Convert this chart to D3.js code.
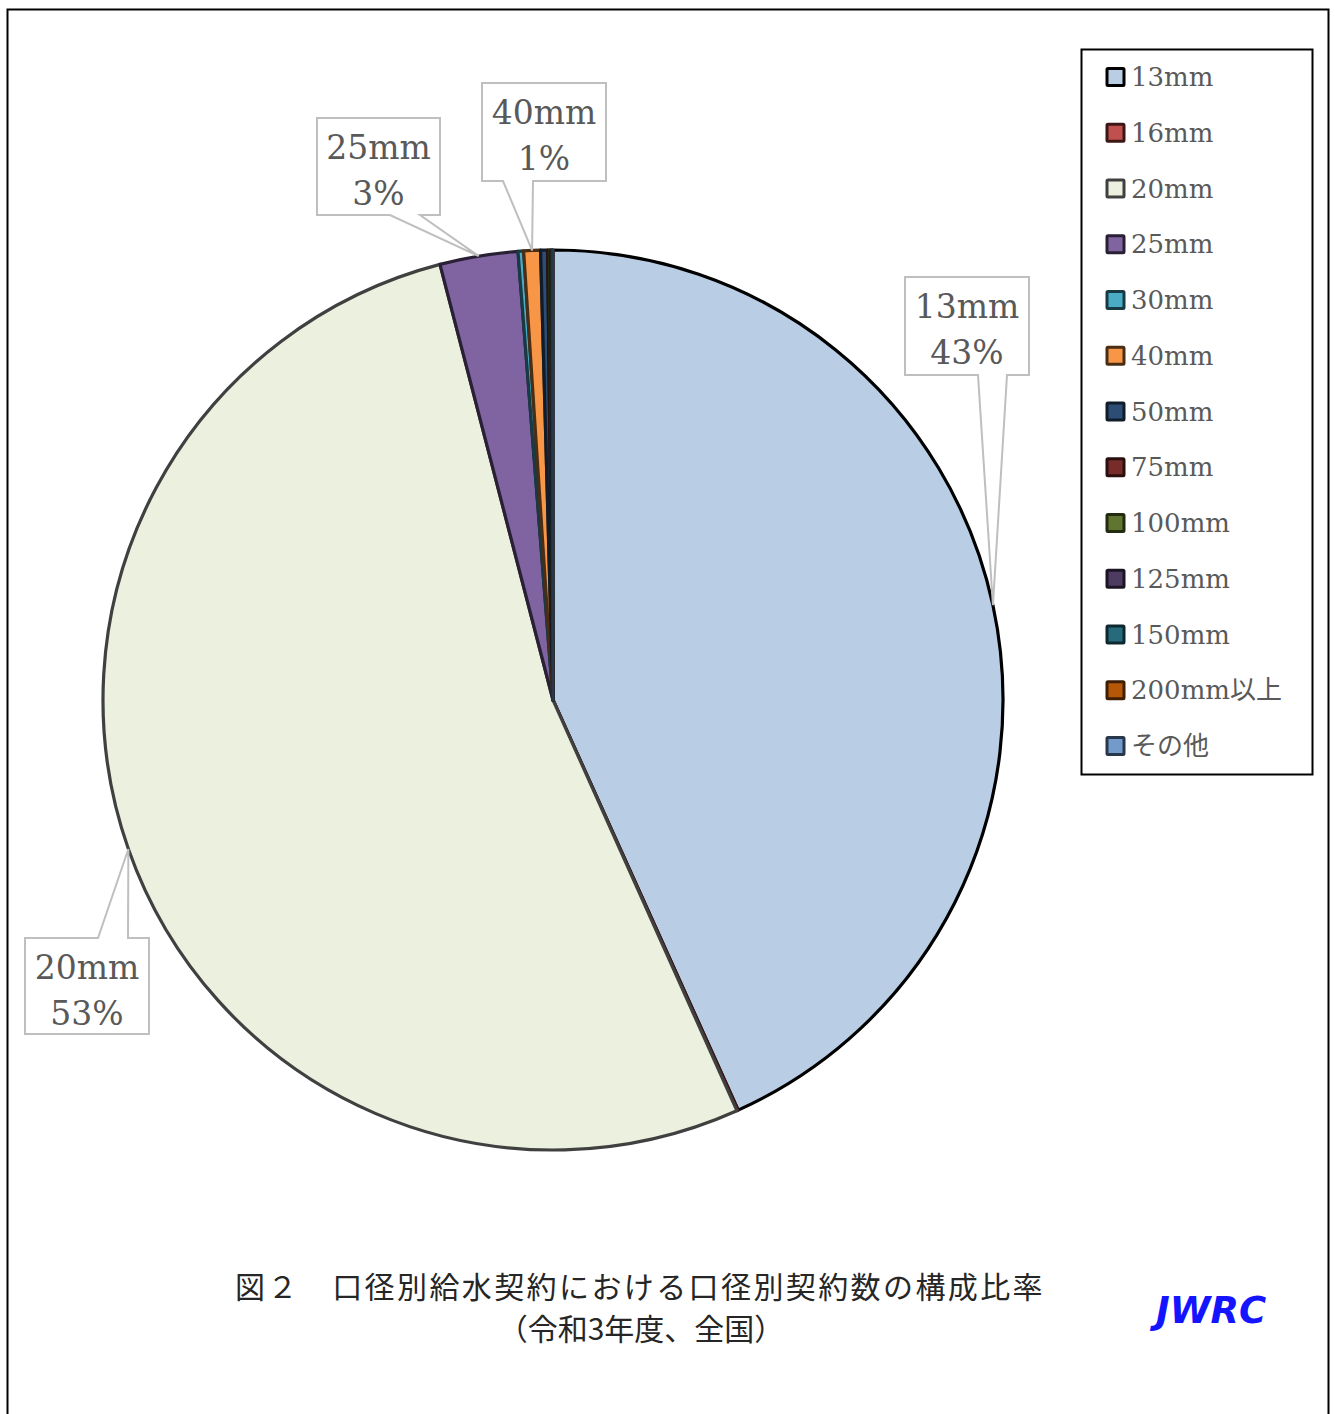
<!DOCTYPE html>
<html>
<head>
<meta charset="utf-8">
<script src="https://cdn.jsdelivr.net/npm/d3@7"></script>
<style>
  body { margin: 0; background: #fff; }
</style>
</head>
<body>
<svg id="chart"></svg>
<script>
// Size of the page
const width = 1335;
const height = 1414;

// Data (percent)
const categories = ["13mm", "16mm", "20mm", "25mm", "30mm", "40mm", "50mm", "75mm", "100mm", "125mm", "150mm", "200mm以上", "その他"];
const shares = [43.25, 0.05, 52.66, 2.8, 0.2, 0.6, 0.25, 0.06, 0.05, 0.02, 0.03, 0.02, 0.01];
const labelled = ["13mm", "20mm", "25mm", "40mm"];

// Colours (Excel style)
const fills = ["#b9cde5", "#c0504d", "#ebf1de", "#8064a2", "#4bacc6", "#f79646", "#2c4d75", "#772c2a", "#5f7530", "#4d3b62", "#276a7c", "#b65708", "#729aca"];
const strokes = ["#000000", "#3b1716", "#404040", "#2a2035", "#173a44", "#4a2d15", "#111c2b", "#2a0f0f", "#232b11", "#1c1524", "#0e2830", "#3f1e03", "#28374a"];

const svg = d3.select("#chart")
    .attr("width", width)
    .attr("height", height);

// outer frame
svg.append("rect")
    .attr("x", 7.5).attr("y", 9.5)
    .attr("width", 1321).attr("height", 1430)
    .attr("fill", "none")
    .attr("stroke", "#000")
    .attr("stroke-width", 2);

// pie
const cx = 553, cy = 700, radius = 450;
const pie = d3.pie().sort(null).value(d => d.value);
const arcs = pie(categories.map((c, i) => ({ name: c, value: shares[i], i: i })));
const arc = d3.arc().innerRadius(0).outerRadius(radius);

const g = svg.append("g").attr("transform", `translate(${cx},${cy})`);
g.selectAll("path.slice")
    .data(arcs)
    .join("path")
    .attr("class", "slice")
    .attr("d", arc)
    .attr("fill", d => fills[d.data.i])
    .attr("stroke", d => strokes[d.data.i])
    .attr("stroke-width", 3.2)
    .attr("stroke-linejoin", "round");

// data label callouts
const total = d3.sum(shares);
const boxes = {
    "13mm": { x: 905, y: 277, w: 124, h: 98, side: "bottom", b0: 978, b1: 1007 },
    "20mm": { x: 25, y: 938, w: 124, h: 96, side: "top", b0: 98, b1: 128 },
    "25mm": { x: 317, y: 118, w: 123, h: 97, side: "bottom", b0: 390, b1: 420 },
    "40mm": { x: 482, y: 83, w: 124, h: 98, side: "bottom", b0: 503, b1: 533 }
};

labelled.forEach(name => {
    const a = arcs.find(d => d.data.name === name);
    const mid = (a.startAngle + a.endAngle) / 2;
    const tx = cx + radius * Math.sin(mid);
    const ty = cy - radius * Math.cos(mid);
    const b = boxes[name];
    const x0 = b.x, x1 = b.x + b.w, y0 = b.y, y1 = b.y + b.h;
    let p;
    if (b.side === "bottom") {
        p = `M${x0},${y0}H${x1}V${y1}H${b.b1}L${tx},${ty}L${b.b0},${y1}H${x0}Z`;
    } else {
        p = `M${x0},${y0}H${b.b0}L${tx},${ty}L${b.b1},${y0}H${x1}V${y1}H${x0}Z`;
    }
    svg.append("path")
        .attr("d", p)
        .attr("fill", "#fff")
        .attr("stroke", "#bfbfbf")
        .attr("stroke-width", 2);
    const pct = Math.round(a.data.value / total * 100) + "%";
    const t = svg.append("text")
        .attr("x", x0 + b.w / 2)
        .attr("text-anchor", "middle")
        .attr("font-family", "DejaVu Serif")
        .attr("font-size", 33)
        .attr("fill", "#595959");
    t.append("tspan").attr("x", x0 + b.w / 2).attr("y", y0 + 41).text(name);
    t.append("tspan").attr("x", x0 + b.w / 2).attr("y", y0 + 87).text(pct);
});

// legend
const legend = svg.append("g");
legend.append("rect")
    .attr("x", 1081.5).attr("y", 49.5)
    .attr("width", 231).attr("height", 725)
    .attr("fill", "#fff")
    .attr("stroke", "#000")
    .attr("stroke-width", 2);

const rowY = d3.scaleLinear().domain([0, categories.length - 1]).range([77, 746]);
const items = legend.selectAll("g.item")
    .data(categories)
    .join("g")
    .attr("class", "item")
    .attr("transform", (d, i) => `translate(0,${rowY(i)})`);
items.append("rect")
    .attr("x", 1107).attr("y", -8.5)
    .attr("width", 17).attr("height", 17)
    .attr("rx", 1)
    .attr("fill", (d, i) => fills[i])
    .attr("stroke", (d, i) => strokes[i])
    .attr("stroke-width", 3);
items.append("text")
    .attr("x", 1131).attr("y", 9)
    .attr("font-family", "DejaVu Serif, 'Noto Sans CJK JP'")
    .attr("font-size", 26)
    .attr("fill", "#595959")
    .text(d => d);

// caption
svg.append("text")
    .attr("x", 235).attr("y", 1298)
    .attr("font-family", "'Noto Sans CJK JP'")
    .attr("font-size", 30)
    .attr("letter-spacing", 2.4)
    .attr("fill", "#262626")
    .text("図２　口径別給水契約における口径別契約数の構成比率");
svg.append("text")
    .attr("x", 641).attr("y", 1340)
    .attr("text-anchor", "middle")
    .attr("font-family", "'Noto Sans CJK JP'")
    .attr("font-size", 30)
    .attr("fill", "#262626")
    .text("（令和3年度、全国）");

svg.append("text")
    .attr("x", 1156).attr("y", 1323)
    .attr("font-family", "DejaVu Sans")
    .attr("font-weight", "bold")
    .attr("font-style", "italic")
    .attr("font-size", 37)
    .attr("fill", "#1414ff")
    .text("JWRC");
</script>
</body>
</html>
